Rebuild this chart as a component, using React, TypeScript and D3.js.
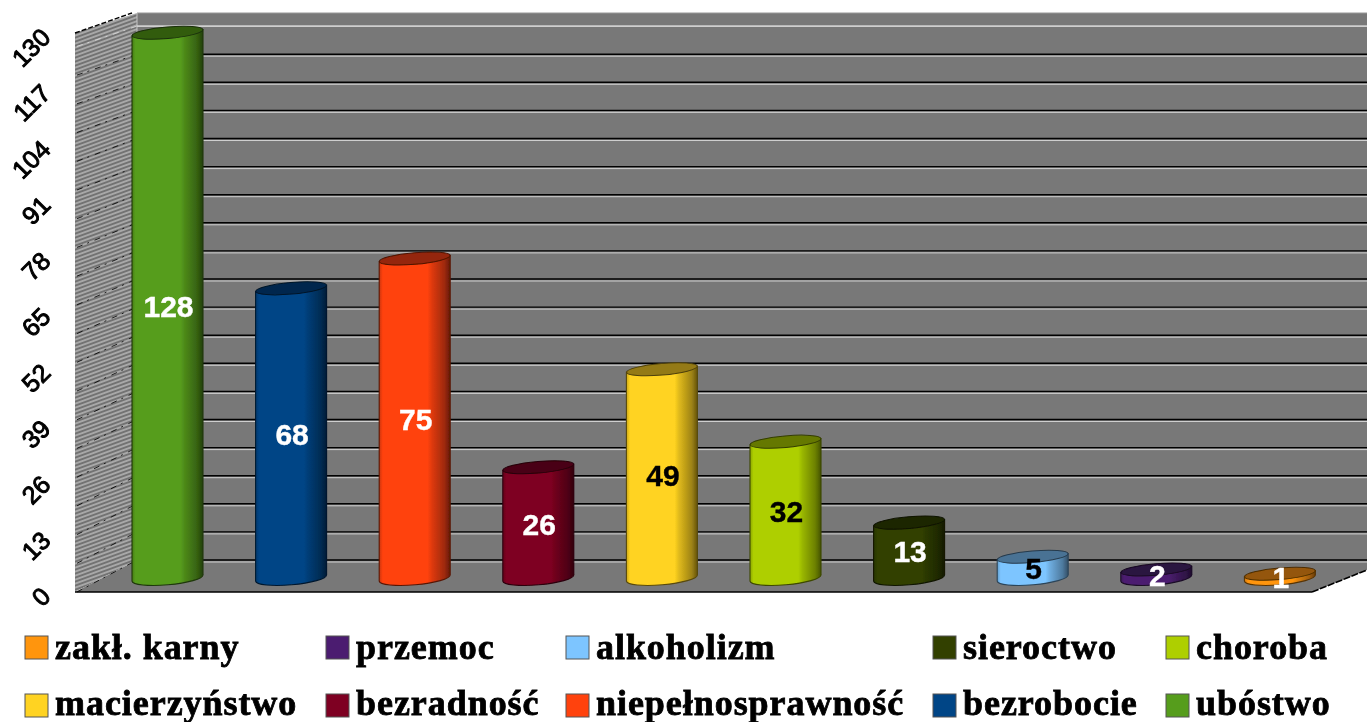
import React from 'react';
import * as d3 from 'd3';

const categories = ['ubóstwo', 'bezrobocie', 'niepełnosprawność', 'bezradność', 'macierzyństwo', 'choroba', 'sieroctwo', 'alkoholizm', 'przemoc', 'zakł. karny'];
const values = [128, 68, 75, 26, 49, 32, 13, 5, 2, 1];
const colors = ['#579D1C', '#004586', '#FF420E', '#7E0021', '#FFD320', '#AECF00', '#314004', '#7DC5FF', '#4B1F6F', '#FF950E'];
const labelColors = ['#fff', '#fff', '#fff', '#fff', '#000', '#000', '#fff', '#000', '#fff', '#fff'];
const axisTicks = d3.range(0, 131, 13);
const gridTicks = d3.range(0, 124, 6.5);
const legendColumns = [25, 326, 566, 933, 1166];
const legendRows = [659, 715];
const legendSwatchTops = [636, 694];

const SERIF = '"Liberation Serif", "Times New Roman", serif';
const SANS = '"Liberation Sans", Arial, sans-serif';

const W = 1367, H = 722;
const wall = { left: 75, back: 137, top: 13, floor: 560, front: 592, frontTop: 33, right: 1367, frontRight: 1312, rightY: 570 };

const x = d3.scaleBand<string>().domain(categories).range([105.7, 1341.7]);
const yBar = d3.scaleLinear().domain([0, 130]).range([578, 24.2]);
const yGrid = d3.scaleLinear().domain([0, 130]).range([560, -2]);
const yAxis = d3.scaleLinear().domain([0, 130]).range([598, 39]);

const RX = 35.5, RY = 5.8, TILT = 3.1;

function shade(c: string, k: number) {
  const r = d3.rgb(c);
  return d3.rgb(r.r * k, r.g * k, r.b * k).formatHex();
}

function sideY(y: number) {
  const t = (wall.floor - y) / (wall.floor - wall.top);
  return wall.front - t * (wall.front - wall.frontTop);
}

export default function App() {
  const legendItems = [...categories].reverse().map((name) => ({
    name,
    color: colors[categories.indexOf(name)],
  }));
  return (
    <svg width={W} height={H} viewBox={`0 0 ${W} ${H}`} style={{ position: 'absolute', left: 0, top: 0, display: 'block', background: '#fff' }}>
      <defs>
        <pattern id="hatch" width="4" height="4" patternUnits="userSpaceOnUse" patternTransform="skewY(-20)">
          <rect width="4" height="4" fill="#a8a8a8" />
          <rect width="4" height="2" fill="#727272" />
        </pattern>
        <filter id="soft" x="-2%" y="-2%" width="104%" height="104%">
          <feGaussianBlur stdDeviation="0.55" />
        </filter>
        {colors.map((c, i) => (
          <linearGradient key={i} id={`cyl${i}`} x1="0" x2="1" y1="0" y2="0">
            <stop offset="0" stopColor={shade(c, 0.8)} />
            <stop offset="0.05" stopColor={c} />
            <stop offset="0.68" stopColor={c} />
            <stop offset="0.74" stopColor={shade(c, 0.88)} />
            <stop offset="0.92" stopColor={shade(c, 0.62)} />
            <stop offset="1" stopColor={shade(c, 0.4)} />
          </linearGradient>
        ))}
      </defs>
      <g filter="url(#soft)">
        {/* back wall */}
        <rect x={wall.back} y={wall.top} width={wall.right - wall.back} height={wall.floor - wall.top} fill="#787878" />
        <line x1={wall.back} x2={wall.right} y1={wall.top} y2={wall.top} stroke="#989898" strokeWidth={1.2} />
        {/* floor */}
        <polygon
          points={`${wall.back},${wall.floor} ${wall.right},${wall.floor} ${wall.right},${wall.rightY} ${wall.frontRight},${wall.front} ${wall.left},${wall.front}`}
          fill="#787878"
        />
        {/* side wall */}
        <polygon
          points={`${wall.left},${wall.frontTop} ${wall.back},${wall.top} ${wall.back},${wall.floor} ${wall.left},${wall.front}`}
          fill="url(#hatch)"
        />
        <line x1={wall.left} y1={wall.frontTop} x2={wall.back - 5} y2={wall.top} stroke="#000" strokeWidth={1.4} strokeDasharray="5 2" />
        <line x1={wall.back} x2={wall.back} y1={wall.top} y2={wall.floor} stroke="#c4c4c4" strokeWidth={1} />
        {/* grid */}
        {gridTicks.map((v, i) => {
          const y = yGrid(v);
          const top = i === gridTicks.length - 1;
          return (
            <g key={v}>
              <line x1={wall.left + 2} y1={sideY(y)} x2={wall.back} y2={y} stroke={top ? '#ddd' : '#000'} strokeOpacity={0.8} strokeWidth={1} strokeDasharray="6 5 2 6" />
              {!top && <line x1={wall.back} x2={wall.right} y1={y} y2={y} stroke="#000" strokeWidth={1.4} />}
              <line x1={wall.back} x2={wall.right} y1={y + (top ? 0 : 2)} y2={y + (top ? 0 : 2)} stroke="#cfcfcf" strokeWidth={top ? 1.6 : 1} />
            </g>
          );
        })}
        {/* front and right edges */}
        <line x1={wall.left} x2={wall.frontRight} y1={wall.front} y2={wall.front} stroke="#000" strokeWidth={1.5} />
        <line x1={wall.frontRight} y1={wall.front} x2={wall.right} y2={wall.rightY} stroke="#000" strokeWidth={1.6} strokeDasharray="7 1.5" />
        {/* bars */}
        {categories.map((c, i) => {
          const cx = x(c)! + x.bandwidth() / 2;
          const top = yBar(values[i]);
          const base = yBar(0);
          const d = `M${cx - RX},${top + TILT} L${cx - RX},${base + TILT} A${RX},${RY + 1} -5 0 0 ${cx + RX},${base - TILT} L${cx + RX},${top - TILT} Z`;
          return (
            <g key={c}>
              <path d={d} fill={`url(#cyl${i})`} stroke={shade(colors[i], 0.35)} strokeWidth={1.1} />
              <ellipse cx={cx} cy={top} rx={RX} ry={RY} transform={`rotate(-5 ${cx} ${top})`} fill={shade(colors[i], 0.58)} stroke={shade(colors[i], 0.3)} strokeWidth={1} />
            </g>
          );
        })}
        {/* axis labels */}
        {axisTicks.map((v) => (
          <text
            key={v}
            transform={`translate(52,${yAxis(v)}) rotate(-45)`}
            textAnchor="end"
            fontFamily={SANS}
            fontSize={25}
            fill="#000"
            stroke="#000"
            strokeWidth={1}
          >
            {v}
          </text>
        ))}
      </g>
      <g filter="url(#soft)">
        {/* value labels */}
        {categories.map((c, i) => {
          const cx = x(c)! + x.bandwidth() / 2;
          const my = (yBar(values[i]) + yBar(0)) / 2;
          return (
            <text key={c} x={cx + 1} y={my + 12} textAnchor="middle" fontFamily={SANS} fontWeight="bold" fontSize={30} fill={labelColors[i]} stroke={labelColors[i]} strokeWidth={0.4}>
              {values[i]}
            </text>
          );
        })}
        {/* legend */}
        {legendItems.map((it, i) => {
          const col = legendColumns[i % 5];
          const row = Math.floor(i / 5);
          return (
            <g key={it.name}>
              <rect x={col} y={legendSwatchTops[row]} width={23} height={23} fill={it.color} stroke="#555" strokeWidth={1} />
              <text x={col + 30} y={legendRows[row]} fontFamily={SERIF} fontWeight="bold" fontSize={36} letterSpacing={0.95} fill="#000" stroke="#000" strokeWidth={0.8}>
                {it.name}
              </text>
            </g>
          );
        })}
      </g>
    </svg>
  );
}
